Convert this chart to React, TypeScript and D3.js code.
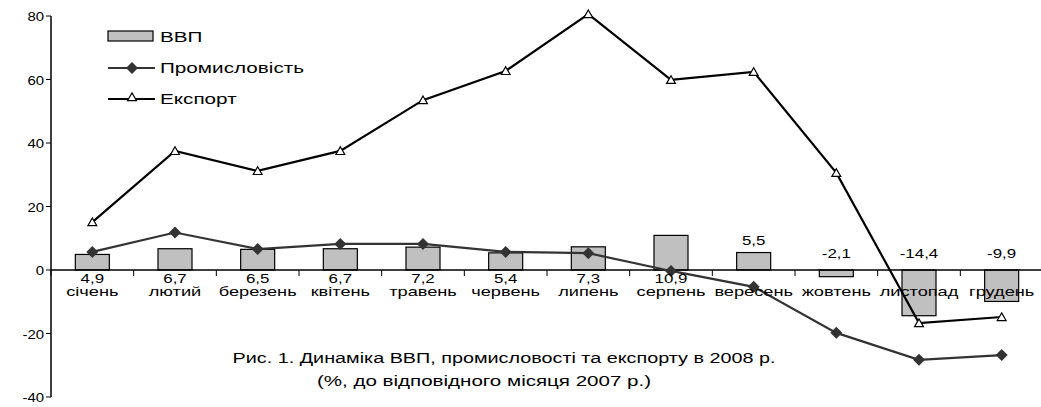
import React from 'react'
import * as d3 from 'd3'

const months = ['січень', 'лютий', 'березень', 'квітень', 'травень', 'червень', 'липень', 'серпень', 'вересень', 'жовтень', 'листопад', 'грудень']
const gdp = [4.9, 6.7, 6.5, 6.7, 7.2, 5.4, 7.3, 10.9, 5.5, -2.1, -14.4, -9.9]
const industry = [5.7, 11.8, 6.6, 8.2, 8.2, 5.7, 5.3, -0.3, -5.3, -19.8, -28.3, -26.8]
const exportData = [15.1, 37.5, 31.2, 37.5, 53.5, 62.7, 80.6, 59.9, 62.4, 30.6, -16.7, -14.8]
const yTicks = [-40, -20, 0, 20, 40, 60, 80]

const W = 1041
const H = 407
const FONT = 'Arial, "Liberation Sans", sans-serif'
const SX = 1.3

function T({ x, y, size = 14, anchor = 'middle', sx = SX, children }: any) {
  return (
    <text
      transform={`translate(${x},${y}) scale(${sx},1)`}
      textAnchor={anchor}
      fontSize={size}
      fontFamily={FONT}
      fill="#000"
    >
      {children}
    </text>
  )
}

const fmt = (v: number) => String(v).replace('.', ',')

export default function App() {
  const x = d3.scaleBand<string>().domain(months).range([51, 1043])
  const y = d3.scaleLinear().domain([-40, 80]).range([397, 16])
  const cx = (m: string) => (x(m) as number) + x.bandwidth() / 2
  const barW = 34
  const y0 = y(0)

  const line = d3.line<number>()
    .x((_, i) => cx(months[i]))
    .y(d => y(d))

  const tri = d3.symbol().type(d3.symbolTriangle).size(34)()
  const diamond = 'M0,-6L6,0L0,6L-6,0Z'

  return (
    <svg width={W} height={H} style={{ position: 'absolute', left: 0, top: 0, background: '#fff' }}>
      {/* y axis */}
      <line x1={51} x2={51} y1={y(80)} y2={y(-40)} stroke="#000" strokeWidth={1.5} />
      {yTicks.map(t => (
        <g key={t}>
          <line x1={46} x2={51} y1={y(t)} y2={y(t)} stroke="#000" />
          <T x={44} y={y(t) + 5} size={13} anchor="end" sx={1.15}>{t}</T>
        </g>
      ))}

      {/* bars */}
      {gdp.map((v, i) => (
        <rect
          key={i}
          x={cx(months[i]) - barW / 2}
          y={Math.min(y(v), y0)}
          width={barW}
          height={Math.abs(y(v) - y0)}
          fill="#c0c0c0"
          stroke="#000"
          strokeWidth={1.2}
        />
      ))}

      {/* x axis */}
      <line x1={51} x2={W} y1={y0} y2={y0} stroke="#000" strokeWidth={1.5} />
      {months.map(m => (
        <line key={m} x1={(x(m) as number)} x2={(x(m) as number)} y1={y0} y2={y0 + 6} stroke="#000" />
      ))}

      {/* lines */}
      <path d={line(industry) || ''} fill="none" stroke="#333" strokeWidth={2.2} />
      <path d={line(exportData) || ''} fill="none" stroke="#000" strokeWidth={2.2} />
      {industry.map((v, i) => (
        <path key={i} d={diamond} transform={`translate(${cx(months[i])},${y(v)})`} fill="#333" />
      ))}
      {exportData.map((v, i) => (
        <path key={i} d={tri || ''} transform={`translate(${cx(months[i])},${y(v) + 1})`} fill="#fff" stroke="#000" strokeWidth={1.2} />
      ))}

      {/* value labels */}
      {gdp.map((v, i) => {
        const yy = i < 8 ? y0 + 13 : (v > 0 ? y(v) - 8 : y0 - 12)
        return <T key={i} x={cx(months[i])} y={yy} size={13}>{fmt(v)}</T>
      })}

      {/* category labels */}
      {months.map(m => (
        <T key={m} x={cx(m)} y={y0 + 26} size={13} sx={1.4}>{m}</T>
      ))}

      {/* legend */}
      <rect x={108} y={31} width={45} height={10} fill="#c0c0c0" stroke="#000" strokeWidth={1.2} />
      <T x={160} y={42} size={15} anchor="start" sx={1.38}>ВВП</T>
      <line x1={108} x2={155} y1={68} y2={68} stroke="#333" strokeWidth={2.2} />
      <path d={diamond} transform="translate(132,68)" fill="#333" />
      <T x={160} y={73} size={15} anchor="start" sx={1.38}>Промисловість</T>
      <line x1={108} x2={155} y1={99} y2={99} stroke="#000" strokeWidth={2.2} />
      <path d={tri || ''} transform="translate(132,98)" fill="#fff" stroke="#000" strokeWidth={1.2} />
      <T x={160} y={104} size={15} anchor="start" sx={1.38}>Експорт</T>

      {/* caption */}
      <T x={504} y={363} size={15} sx={1.32}>Рис. 1. Динаміка ВВП, промисловості та експорту в 2008 р.</T>
      <T x={484} y={386} size={15} sx={1.37}>(%, до відповідного місяця 2007 р.)</T>
    </svg>
  )
}
